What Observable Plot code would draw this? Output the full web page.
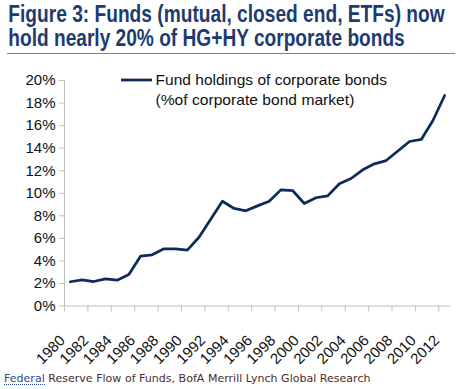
<!DOCTYPE html>
<html><head><meta charset="utf-8">
<script src="https://cdn.jsdelivr.net/npm/d3@7"></script>
<script src="https://cdn.jsdelivr.net/npm/@observablehq/plot@0.6"></script>
<style>
body{margin:0;background:#fff;}
#wrap{position:relative;width:458px;height:389px;overflow:hidden;background:#fff;font-family:"Liberation Sans",Arial,Helvetica,sans-serif;}
#wrap > svg{position:absolute;left:0;top:0;}
</style></head><body>
<div id="wrap"></div>
<script>
// ---- data ----
const years = [1980,1981,1982,1983,1984,1985,1986,1987,1988,1989,1990,1991,1992,1993,1994,1995,1996,1997,1998,1999,2000,2001,2002,2003,2004,2005,2006,2007,2008,2009,2010,2011,2012];
const fundShare = [2.15,2.32,2.17,2.41,2.29,2.79,4.42,4.54,5.07,5.07,4.95,6.10,7.70,9.29,8.65,8.44,8.88,9.29,10.30,10.24,9.09,9.60,9.77,10.84,11.31,12.08,12.61,12.90,13.75,14.59,14.77,16.45,18.67];
const yTicks = [0,2,4,6,8,10,12,14,16,18,20];
const xTicks = [1980,1982,1984,1986,1988,1990,1992,1994,1996,1998,2000,2002,2004,2006,2008,2010,2012];
const titleLines = ["Figure 3: Funds (mutual, closed end, ETFs) now","hold nearly 20% of HG+HY corporate bonds"];
const legendLines = ["Fund holdings of corporate bonds","(%of corporate bond market)"];
const sourceLink = "Federal";
const sourceRest = " Reserve Flow of Funds, BofA Merrill Lynch Global Research";

const data = years.map((year, i) => ({year, value: fundShare[i]}));
const navy = "#0d2c5b";
const axisGray = "#c0c0c0";
const font = "'Liberation Sans', Arial, Helvetica, sans-serif";

const chart = Plot.plot({
  width: 458, height: 389,
  marginTop: 80, marginBottom: 83.5, marginLeft: 64, marginRight: 8,
  style: {fontFamily: font, background: "transparent", color: "#111"},
  x: {domain: [1980, 2013], label: null},
  y: {domain: [0, 20], label: null},
  marks: [
    Plot.ruleY([0], {stroke: axisGray}),
    Plot.ruleX([1980], {stroke: axisGray}),
    Plot.axisY({ticks: yTicks, tickFormat: d => d + "%", tickSize: 5, tickPadding: 4, stroke: axisGray, fill: "#111", fontSize: 15, label: null}),
    Plot.axisX({ticks: xTicks, tickFormat: () => "", tickSize: 6, stroke: axisGray, label: null}),
    Plot.text(xTicks, {x: d => d, text: d => String(d), frameAnchor: "bottom", rotate: -45, textAnchor: "end", lineAnchor: "middle", dy: 32, dx: -2, fontSize: 15, fill: "#111"}),
    Plot.line(data, {x: d => d.year + 0.5, y: "value", stroke: navy, strokeWidth: 2.75, strokeLinejoin: "round"})
  ]
});
const wrap = document.getElementById("wrap");
wrap.appendChild(chart);

// ---- overlay: title, legend, source ----
const ov = d3.select(wrap).append("svg").attr("width", 458).attr("height", 389).style("pointer-events", "none");

// place a text at (x, baseline) and squeeze it horizontally to a target width
function fitText(sel, x, y, width) {
  const natural = sel.node().getComputedTextLength();
  const sx = natural > 0 ? width / natural : 1;
  sel.attr("transform", `translate(${x},${y}) scale(${sx},1)`);
  return sel;
}

const titleWidths = [436.7, 396.7];
const titleBase = [21.7, 45.5];
titleLines.forEach((t, i) => {
  const s = ov.append("text").attr("font-family", font).attr("font-weight", "bold")
    .attr("font-size", 23).attr("fill", "#1e3b70").text(t);
  fitText(s, 8.3, titleBase[i], titleWidths[i]);
});
ov.append("line").attr("x1", 7).attr("x2", 455).attr("y1", 53.5).attr("y2", 53.5).attr("stroke", "#5b85c0").attr("stroke-width", 1);

ov.append("line").attr("x1", 121).attr("x2", 152).attr("y1", 80).attr("y2", 80).attr("stroke", navy).attr("stroke-width", 2.75);
const legW = [231.8, 199];
const legBase = [85, 104.5];
legendLines.forEach((t, i) => {
  const s = ov.append("text").attr("font-family", font).attr("font-size", 14).attr("fill", "#111").text(t);
  fitText(s, 155.5, legBase[i], legW[i]);
});

const src = ov.append("text").attr("font-family", "'DejaVu Sans', Verdana, sans-serif").attr("font-size", 11);
src.append("tspan").attr("fill", "#2b4a8c").text(sourceLink);
src.append("tspan").attr("fill", "#4f2b2b").text(sourceRest);
fitText(src, 4, 381.7, 367);
ov.append("line").attr("x1", 4).attr("x2", 45).attr("y1", 384.5).attr("y2", 384.5).attr("stroke", "#2b4a8c").attr("stroke-width", 1).attr("stroke-dasharray", "1,1");
</script>
</body></html>
